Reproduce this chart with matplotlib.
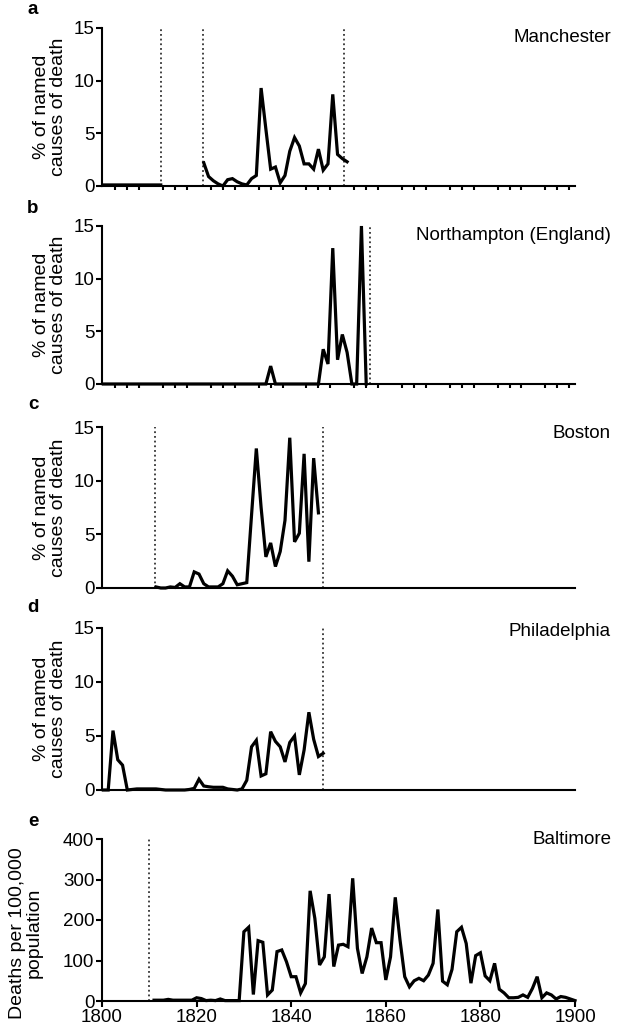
import numpy as np
import matplotlib
matplotlib.use("Agg")
import matplotlib.pyplot as plt

plt.rcParams['font.family'] = ['Liberation Sans', 'DejaVu Sans']

# ---- data -------------------------------------------------------------
nan = np.nan

man_years = list(range(1800, 1813)) + list(range(1821, 1852))
man_vals = [0.1] * 13 + [
    2.2, 0.9, 0.5, 0.2, 0.0, 0.6, 0.7, 0.4, 0.2, 0.1,
    0.7, 1.0, 9.3, 5.4, 1.6, 1.8, 0.3, 1.0, 3.3, 4.6,
    3.8, 2.1, 2.1, 1.6, 3.5, 1.5, 2.1, 8.7, 3.0, 2.6, 2.3]
man_gap_after = 1812
man_marks = [1812, 1820.8, 1850.4]

nor_years = list(range(1800, 1856))
nor_vals = [0.0] * 35 + [1.7] + [0.0] * 10 + [
    3.3, 1.9, 12.9, 2.3, 4.7, 3.0, 0.0, 0.0, 15.0, 0.0]
nor_marks = [1855.7]

bos_years = list(range(1811, 1846))
bos_vals = [0.1, 0.0, 0.0, 0.1, 0.05, 0.4, 0.1, 0.1, 1.5, 1.3,
            0.4, 0.1, 0.1, 0.1, 0.4, 1.6, 1.1, 0.3, 0.4, 0.5,
            6.8, 13.0, 7.5, 2.9, 4.2, 2.0, 3.4, 6.3, 14.0, 4.3,
            5.1, 12.5, 2.45, 12.1, 7.0]
bos_marks = [1810.8, 1846.0]

phi_years = list(range(1800, 1847))
phi_vals = [0.0, 0.0, 5.5, 2.8, 2.3, 0.0, 0.05, 0.1, 0.1, 0.1,
            0.1, 0.1, 0.05, 0.0, 0.0, 0.0, 0.0, 0.0, 0.05, 0.15,
            1.0, 0.37, 0.3, 0.25, 0.25, 0.25, 0.1, 0.05, 0.0, 0.1,
            0.9, 4.0, 4.6, 1.3, 1.5, 5.4, 4.5, 4.0, 2.6, 4.4,
            5.0, 1.4, 3.7, 7.2, 4.7, 3.1, 3.4]
phi_marks = [1846.0]

bal_years = list(range(1811, 1901))
bal_vals = [2, 2, 2, 4, 2, 2, 2, 2, 2, 8,
            6, 1, 2, 1, 5, 1, 1, 1, 1, 171,
            182, 16, 149, 145, 15, 27, 122, 126, 97, 60,
            60, 20, 43, 272, 204, 89, 109, 264, 85, 138,
            140, 134, 303, 130, 68, 109, 180, 144, 144, 52,
            109, 256, 151, 60, 35, 50, 56, 50, 64, 93,
            226, 49, 40, 78, 171, 182, 142, 44, 112, 119,
            62, 50, 93, 29, 20, 8, 8, 9, 15, 9,
            31, 60, 8, 20, 15, 5, 11, 9, 5, 1]
bal_marks = [1810.0]

pct_label = '% of named\ncauses of death'
panels = [
    ('a', 'Manchester', man_years, man_vals, man_marks, pct_label),
    ('b', 'Northampton (England)', nor_years, nor_vals, nor_marks, pct_label),
    ('c', 'Boston', bos_years, bos_vals, bos_marks, pct_label),
    ('d', 'Philadelphia', phi_years, phi_vals, phi_marks, pct_label),
    ('e', 'Baltimore', bal_years, bal_vals, bal_marks,
     'Deaths per 100,000\npopulation'),
]

# ---- layout (pixels) --------------------------------------------------
W, H = 623, 1028
left_px, right_px = 102, 575
rows_px = [(28, 186), (226, 384), (427, 588), (628, 790), (839, 1001)]
city_dy = [10, 9, 6, 4, 0]
letter_dy = [-19, -17, -22, -21, -17]

fig = plt.figure(figsize=(W / 100, H / 100), dpi=100)
fs = 13.5

for i, (letter, city, yrs, vals, marks, ylab) in enumerate(panels):
    top, bot = rows_px[i]
    ax = fig.add_axes([left_px / W, 1 - bot / H,
                       (right_px - left_px) / W, (bot - top) / H])
    yrs = np.array(yrs, dtype=float)
    vals = np.array(vals, dtype=float)
    if letter == 'a':
        # no data between the two early series
        cut = np.searchsorted(yrs, man_gap_after, side='right')
        yrs = np.insert(yrs, cut, man_gap_after + 0.5)
        vals = np.insert(vals, cut, nan)
    ax.plot(yrs, vals, color='black', lw=2.3, solid_joinstyle='miter',
            clip_on=False, zorder=3)
    for m in marks:
        ax.axvline(m, color='#333333', lw=1.3, ls=(0, (1, 1.6)), zorder=2)

    for s in ('top', 'right'):
        ax.spines[s].set_visible(False)
    for s in ('left', 'bottom'):
        ax.spines[s].set_linewidth(1.5)

    if letter == 'e':
        ax.set_xlim(1800, 1900)
        ax.set_ylim(0, 400)
        ax.set_yticks([0, 100, 200, 300, 400])
        ax.set_xticks(range(1800, 1901, 20))
        ax.tick_params(axis='x', length=4, width=1.5, labelsize=fs, pad=2)
    else:
        ax.set_xlim(1799.7, 1898.7)
        ax.set_ylim(0, 15)
        ax.set_yticks([0, 5, 10, 15])
        if letter in ('a', 'b'):
            minor = [1800 + 2.5 * k for k in range(1, 40) if k % 4]
            ax.set_xticks(minor)
            ax.tick_params(axis='x', length=3, width=1.5, labelbottom=False)
        else:
            ax.set_xticks([])
    ax.tick_params(axis='y', length=4, width=1.5, labelsize=fs, pad=1.5)

    ax.set_ylabel(ylab, fontsize=14, labelpad=5, linespacing=1.0)
    if letter == 'e':
        ax.yaxis.set_label_coords(-0.125, 0.42)
    fig.text(611 / W, 1 - (top + city_dy[i]) / H, city, ha='right',
             va='center', fontsize=fs)
    fig.text(33 / W, 1 - (top + letter_dy[i]) / H, letter, ha='center',
             va='center', fontsize=fs, fontweight='bold')

fig.savefig('out.png', dpi=100)
